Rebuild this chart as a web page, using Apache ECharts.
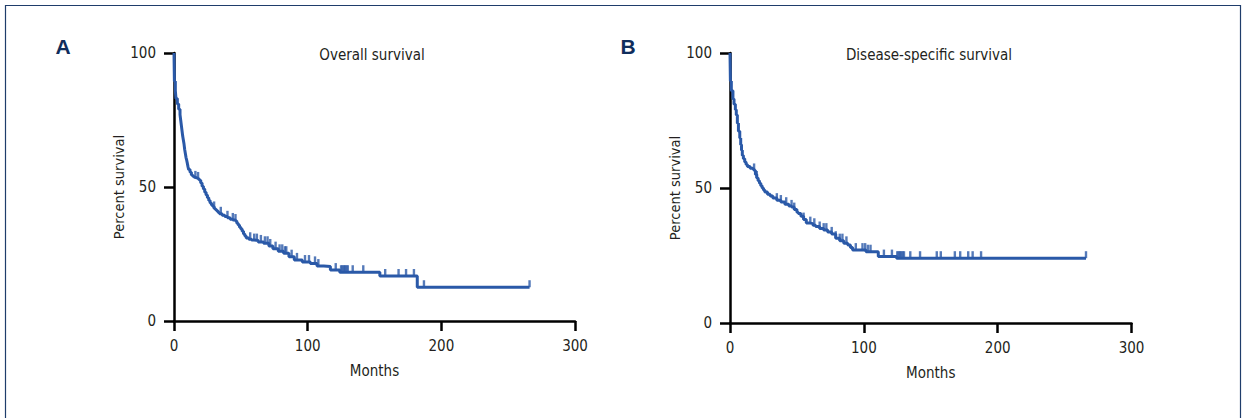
<!DOCTYPE html>
<html>
<head>
<meta charset="utf-8">
<script src="https://cdn.jsdelivr.net/npm/echarts@6/dist/echarts.min.js"></script>
<style>
html,body{margin:0;padding:0;background:#fff;}
#chart{width:1246px;height:418px;}
</style>
</head>
<body>
<div id="chart"></div>
<script>
// ---------- DATA ----------
var panelLabels = ['A', 'B'];
var panelTitles = ['Overall survival', 'Disease-specific survival'];
var xTicks = [0, 100, 200, 300];
var yTicks = [0, 50, 100];
var xAxisTitle = 'Months';
var yAxisTitle = 'Percent survival';

// Overall survival (Kaplan-Meier step points: month, percent)
var osTime = [0, 0.3, 1, 1.5, 2.5, 3.5, 4.5, 5, 5.5, 6, 6.5, 7, 7.5, 8, 8.5, 9, 9.5, 10, 10.5, 11, 12, 13, 14, 15, 16, 17, 18, 19, 20, 21, 22, 23, 24, 25, 26, 27, 28, 29, 30, 31, 32, 33, 34, 36, 38, 40, 42, 44, 46, 47, 48, 49, 50, 51, 52, 53, 54, 56, 58, 60, 63, 67, 71, 74, 78, 82, 86, 90, 96, 102, 107, 112, 117, 124, 154, 182, 266];
var osSurv = [100, 89.5, 86, 83, 81, 79, 77, 75, 73, 71, 69, 67.5, 66, 64, 62.5, 61, 60, 58.8, 57.5, 56.5, 55.5, 54.5, 54, 53.6, 53.4, 53.3, 53, 52.5, 51.5, 50.3, 49.3, 48, 47, 46, 45, 44, 43.3, 42.7, 42, 41.5, 41, 40.5, 40, 39.5, 39, 38.5, 38, 37.7, 37.3, 36.5, 35.8, 35, 34.3, 33.5, 32.5, 31.7, 31, 30.5, 30.2, 30, 29.5, 29, 28, 27, 26, 25.3, 24, 22.8, 22, 21.5, 20.5, 20.3, 19, 18.2, 16.8, 12.6, 12.6];
var osCensor = [16, 18, 30, 35, 40, 44, 46, 57, 60, 62, 65, 68, 70, 72, 76, 79, 81, 83, 84, 88, 92, 98, 101, 105.5, 108, 121, 125, 126, 127, 128, 129, 130, 133.7, 141.6, 158, 168, 173.6, 179.5, 187, 266];

// Disease-specific survival
var dssTime = [0, 0.3, 1, 2.2, 3, 4, 4.7, 5.5, 6.3, 7.3, 8, 8.6, 9.2, 10, 11, 12, 13, 15, 17, 18, 19, 20, 21, 22, 23, 24, 25, 26, 28, 30, 32, 35, 38, 41, 44, 46, 48, 50, 51, 53, 55, 57, 60, 62, 64, 67, 70, 73, 76, 79, 82, 85, 88, 90, 91.6, 101.6, 110.8, 124.5, 266];
var dssSurv = [100, 89.6, 86, 83, 81, 79, 77, 74, 71, 68.5, 66, 64, 62, 60.8, 59.6, 58.7, 58, 57.3, 57, 56.5, 55, 53.7, 52.7, 51.8, 50.8, 50, 49.3, 48.5, 47.7, 47, 46.3, 45.5, 44.8, 44, 43.3, 43, 42, 41, 40.6, 39.5, 38.3, 37, 36.8, 36.2, 35.7, 35, 34.4, 33.7, 33, 31.4, 30.5, 29.5, 28.9, 28, 27, 26.4, 24.6, 24, 24];
var dssCensor = [18, 20, 35, 38, 42, 46, 48, 55, 60, 63, 67, 70, 72, 76, 79, 82, 84, 87, 94, 99, 101, 103, 105, 115, 121, 125, 126, 127, 128, 129, 130, 134.7, 142, 154.5, 157.5, 168, 172, 178, 181.3, 187.6, 266];

// ---------- BUILD ----------
function pairs(t, s) { return t.map(function (v, i) { return [v, s[i]]; }); }
function levelAt(t, times, surv) {
  var v = surv[0];
  for (var i = 0; i < times.length; i++) { if (times[i] <= t) v = surv[i]; }
  return v;
}
function censorPts(c, times, surv) { return c.map(function (t) { return [t, levelAt(t, times, surv)]; }); }

var FONT = '"Liberation Sans Narrow","DejaVu Sans Condensed","Roboto Condensed",sans-serif';
var TXT = '#231f20';
var BLUE = '#2a59a8';
var FS = 15;

var grids = [
  { left: 174, top: 53, width: 401, height: 268 },
  { left: 730, top: 53, width: 401.5, height: 270 }
];

function xAx(i) {
  return {
    type: 'value', gridIndex: i, min: 0, max: 300, interval: 100,
    name: xAxisTitle, nameLocation: 'middle', nameGap: 42,
    nameTextStyle: { fontFamily: FONT, fontSize: FS, color: TXT },
    axisLine: { show: true, onZero: false, lineStyle: { color: '#000', width: 2.5 } },
    axisTick: { show: true, length: 10, lineStyle: { color: '#000', width: 2.5 } },
    axisLabel: { fontFamily: FONT, fontSize: FS, color: TXT, margin: 17,
      formatter: function (v) { return xTicks.indexOf(v) >= 0 ? String(v) : ''; } },
    splitLine: { show: false }
  };
}
function yAx(i) {
  return {
    type: 'value', gridIndex: i, min: 0, max: 100, interval: 50,
    name: yAxisTitle, nameLocation: 'middle', nameGap: 48, nameRotate: 90,
    nameTextStyle: { fontFamily: FONT, fontSize: 14.5, color: TXT },
    axisLine: { show: true, lineStyle: { color: '#000', width: 2.5 } },
    axisTick: { show: true, length: 10, lineStyle: { color: '#000', width: 2.5 } },
    axisLabel: { fontFamily: FONT, fontSize: FS, color: TXT, margin: 18,
      formatter: function (v) { return yTicks.indexOf(v) >= 0 ? String(v) : ''; } },
    splitLine: { show: false }
  };
}

var curves = [[osTime, osSurv, osCensor], [dssTime, dssSurv, dssCensor]];
var series = [];
curves.forEach(function (c, i) {
  series.push({
    type: 'line', xAxisIndex: i, yAxisIndex: i, step: 'end',
    data: pairs(c[0], c[1]), showSymbol: false, symbol: 'none',
    lineStyle: { color: BLUE, width: 3 }, silent: true, z: 3
  });
  series.push({
    type: 'scatter', xAxisIndex: i, yAxisIndex: i,
    data: censorPts(c[2], c[0], c[1]),
    symbol: 'rect', symbolSize: [2.4, 7], symbolOffset: [0, -3.5],
    itemStyle: { color: BLUE }, silent: true, z: 4
  });
});

var graphics = [
  { type: 'rect', shape: { x: 5.5, y: 5.5, width: 1235, height: 430 }, style: { fill: 'none', stroke: '#1f3d6b', lineWidth: 1.2 }, silent: true },
  { type: 'text', x: 63, y: 46, style: { text: panelLabels[0], fontFamily: '"Liberation Sans",Arial,sans-serif', fontWeight: 'bold', fontSize: 21, fill: '#0f2d5c', align: 'center', verticalAlign: 'middle' } },
  { type: 'text', x: 628, y: 46, style: { text: panelLabels[1], fontFamily: '"Liberation Sans",Arial,sans-serif', fontWeight: 'bold', fontSize: 21, fill: '#0f2d5c', align: 'center', verticalAlign: 'middle' } },
  { type: 'text', x: 372, y: 55, style: { text: panelTitles[0], fontFamily: FONT, fontSize: FS, fill: TXT, align: 'center', verticalAlign: 'middle' } },
  { type: 'text', x: 929, y: 55, style: { text: panelTitles[1], fontFamily: FONT, fontSize: FS, fill: TXT, align: 'center', verticalAlign: 'middle' } }
];

var chart = echarts.init(document.getElementById('chart'), null, { renderer: 'svg' });
chart.setOption({
  animation: false,
  backgroundColor: '#fff',
  grid: grids,
  xAxis: [xAx(0), xAx(1)],
  yAxis: [yAx(0), yAx(1)],
  series: series,
  graphic: graphics
});
</script>
</body>
</html>
